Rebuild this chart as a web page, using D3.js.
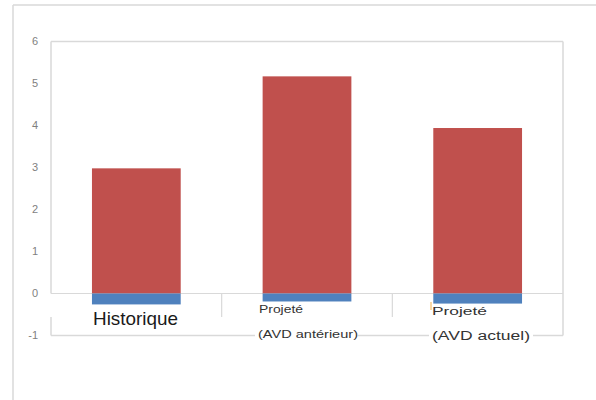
<!DOCTYPE html>
<html>
<head>
<meta charset="utf-8">
<script src="https://cdn.jsdelivr.net/npm/d3@7"></script>
<style>
body{margin:0;background:#fff}
text{font-family:"Liberation Sans",Arial,sans-serif}
</style>
</head>
<body>
<svg id="chart" width="596" height="400"></svg>
<script>
// data
var categories = ["Historique", "Projeté (AVD antérieur)", "Projeté (AVD actuel)"]
var line1 = ["Historique", "Projeté", "Projeté"]
var line2 = ["", "(AVD antérieur)", "(AVD actuel)"]
var positive = [2.98, 5.17, 3.94]
var negative = [-0.26, -0.19, -0.24]
var yTicks = [-1, 0, 1, 2, 3, 4, 5, 6]

var svg = d3.select("#chart")
var grid = "#d9d9d9"

function seg(x1, y1, x2, y2, w) {
    svg.append("line").attr("x1",x1).attr("y1",y1).attr("x2",x2).attr("y2",y2)
        .attr("stroke",grid).attr("stroke-width",w || 1.5)
}

// outer frame (only top and left show)
seg(13, 5, 596, 5)
seg(13, 5, 13, 400)

var x = d3.scaleBand().domain(categories).range([51,563]).paddingInner(0.48).paddingOuter(0.24)
var y = d3.scaleLinear().domain([-1,6]).range([335.5,41.5])

var L = 51, R = 563, T = y(6), B = y(-1)

// plot box, broken around the label row
seg(L, T, R, T)
seg(L, T, L, y(0))
seg(L, 317, L, B)
seg(R, T, R, B)
seg(L, B, R, B)
seg(L, y(0), R, y(0), 1.2)

// category separators
var step = x.step()
categories.slice(1).forEach(function(c){
    var sx = x(c) - x.paddingInner()*step/2
    seg(sx, y(0), sx, 317, 1.2)
})

// y tick labels
svg.selectAll(".tick").data(yTicks).enter().append("text")
    .attr("x",38).attr("y",function(d){return y(d)}).attr("dy","0.35em")
    .attr("text-anchor","end").attr("font-size","11px").attr("fill","#7f7f7f")
    .text(function(d){return d})

// bars
svg.selectAll(".pos").data(positive).enter().append("rect")
    .attr("x",function(d,i){return x(categories[i])}).attr("width",x.bandwidth())
    .attr("y",function(d){return y(d)}).attr("height",function(d){return y(0)-y(d)})
    .attr("fill","#c0504d")
svg.selectAll(".neg").data(negative).enter().append("rect")
    .attr("x",function(d,i){return x(categories[i])}).attr("width",x.bandwidth())
    .attr("y",y(0)).attr("height",function(d){return y(d)-y(0)})
    .attr("fill","#4f81bd")

// white patches where the second label line sits on the box edge
svg.append("rect").attr("x",255).attr("y",329).attr("width",103).attr("height",12).attr("fill","#fff")
svg.append("rect").attr("x",429).attr("y",329).attr("width",104).attr("height",14).attr("fill","#fff")

// labels, stretched like the picture
svg.append("text").attr("x",93).attr("y",325).attr("font-size","18.5px").attr("fill","#1a1a1a")
    .attr("textLength",85).attr("lengthAdjust","spacingAndGlyphs").text(line1[0])
svg.append("text").attr("x",259).attr("y",313).attr("font-size","10px").attr("fill","#333")
    .attr("textLength",44).attr("lengthAdjust","spacingAndGlyphs").text(line1[1])
svg.append("text").attr("x",432).attr("y",314.5).attr("font-size","11.5px").attr("fill","#333")
    .attr("textLength",55).attr("lengthAdjust","spacingAndGlyphs").text(line1[2])
svg.append("text").attr("x",258).attr("y",338).attr("font-size","10.5px").attr("fill","#333")
    .attr("textLength",100).attr("lengthAdjust","spacingAndGlyphs").text(line2[1])
svg.append("text").attr("x",432).attr("y",340).attr("font-size","12.5px").attr("fill","#333")
    .attr("textLength",98).attr("lengthAdjust","spacingAndGlyphs").text(line2[2])

// small orange mark left of the last label
svg.append("line").attr("x1",431).attr("x2",431).attr("y1",302).attr("y2",310).attr("stroke","#f0b050").attr("stroke-width",1)
</script>
</body>
</html>
